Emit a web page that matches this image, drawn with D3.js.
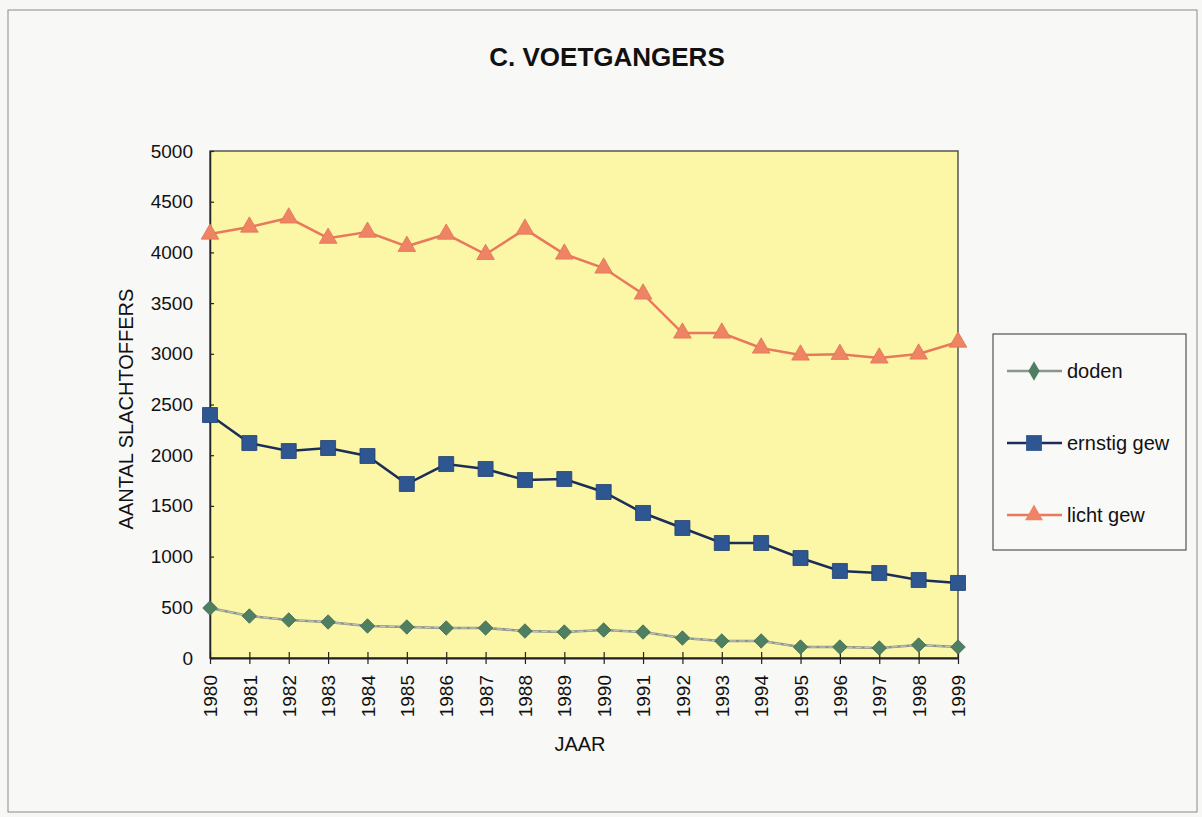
<!DOCTYPE html>
<html>
<head>
<meta charset="utf-8">
<script src="https://cdn.jsdelivr.net/npm/d3@7"></script>
<style>
  body { margin: 0; background: #f7f7f5; }
  svg { display: block; font-family: "Liberation Sans", Arial, sans-serif; }
</style>
</head>
<body>
<svg id="chart" width="1202" height="817"></svg>
<script>
"use strict";

var years = ["1980","1981","1982","1983","1984","1985","1986","1987","1988","1989",
  "1990","1991","1992","1993","1994","1995","1996","1997","1998","1999"];
var doden = [493, 414, 375, 355, 316, 306, 296, 296, 266, 256,
  276, 256, 197, 168, 168, 108, 108, 99, 128, 108];
var ernstig = [2396, 2120, 2041, 2071, 1992, 1716, 1913, 1864, 1755, 1765,
  1637, 1430, 1282, 1134, 1134, 986, 858, 838, 769, 740];
var licht = [4181, 4250, 4340, 4140, 4200, 4060, 4180, 3980, 4230, 3984,
  3846, 3590, 3205, 3205, 3057, 2988, 2995, 2959, 2998, 3116];
var yTicks = [0, 500, 1000, 1500, 2000, 2500, 3000, 3500, 4000, 4500, 5000];

// diamond drawn as a square turned 45 degrees (Excel style)
var squareDiamond = {
  draw: function (context, size) {
    var r = Math.sqrt(size / 2);
    context.moveTo(0, -r);
    context.lineTo(r, 0);
    context.lineTo(0, r);
    context.lineTo(-r, 0);
    context.closePath();
  }
};

var series = [
  { name: "doden", values: doden, line: "#8c948c", fill: "#4f7f62", edge: "#3d6650",
    shape: squareDiamond, size: 105, legendShape: d3.symbolDiamond, legendSize: 110, lw: 2.5 },
  { name: "ernstig gew", values: ernstig, line: "#1c2d58", fill: "#2e5690", edge: "#213f6e",
    shape: d3.symbolSquare, size: 225, legendShape: d3.symbolSquare, legendSize: 250, lw: 2.5 },
  { name: "licht gew", values: licht, line: "#e8795d", fill: "#ee8464", edge: "#e07556",
    shape: d3.symbolTriangle, size: 135, legendShape: d3.symbolTriangle, legendSize: 140, lw: 2.5 }
];

function drawChart() {
  var svg = d3.select("#chart");
  var plotLeft = 210, plotRight = 958, plotTop = 151, plotBottom = 658;

  // outer frame
  svg.append("rect")
    .attr("x", 8).attr("y", 10).attr("width", 1189).attr("height", 802)
    .style("fill", "#f8f8f6").style("stroke", "#8a8a8a").style("stroke-width", 1);

  var x = d3.scalePoint().domain(years).range([plotLeft, plotRight]);
  var y = d3.scaleLinear().domain([0, 5000]).range([plotBottom, plotTop]);

  // plot area
  svg.append("rect")
    .attr("x", plotLeft).attr("y", plotTop)
    .attr("width", plotRight - plotLeft).attr("height", plotBottom - plotTop)
    .style("fill", "#fcf7a6").style("stroke", "#555").style("stroke-width", 1.5);

  svg.append("text")
    .text("C. VOETGANGERS")
    .attr("x", 607).attr("y", 66)
    .attr("text-anchor", "middle")
    .style("font-size", "26px").style("font-weight", 700).style("fill", "#111");

  // y axis
  var yAxis = svg.append("g")
    .attr("transform", "translate(" + plotLeft + ",0)")
    .call(d3.axisLeft(y).tickValues(yTicks).tickFormat(d3.format("d"))
      .tickSizeInner(4).tickSizeOuter(0).tickPadding(13));
  yAxis.select(".domain").style("stroke", "#222").style("stroke-width", 1.5);
  yAxis.selectAll(".tick line").attr("x2", 4).style("stroke", "#222").style("stroke-width", 1.2);
  yAxis.selectAll("text").style("font-size", "19px").style("fill", "#111")
    .style("font-family", "'Liberation Sans', Arial, sans-serif");

  // x axis
  var xAxis = svg.append("g")
    .attr("transform", "translate(0," + plotBottom + ")")
    .call(d3.axisBottom(x).tickSizeInner(6).tickSizeOuter(0));
  xAxis.select(".domain").style("stroke", "#222").style("stroke-width", 2);
  xAxis.selectAll(".tick line").attr("y1", -6).style("stroke", "#222").style("stroke-width", 1.2);
  xAxis.selectAll("text")
    .attr("transform", "rotate(-90)")
    .attr("x", -17).attr("y", 0).attr("dy", "0.35em")
    .attr("text-anchor", "end")
    .style("font-size", "19px").style("fill", "#111")
    .style("font-family", "'Liberation Sans', Arial, sans-serif");

  svg.append("text")
    .text("AANTAL SLACHTOFFERS")
    .attr("transform", "translate(133,409) rotate(-90)")
    .attr("text-anchor", "middle")
    .style("font-size", "20px").style("fill", "#111");

  svg.append("text")
    .text("JAAR")
    .attr("x", 580).attr("y", 751)
    .attr("text-anchor", "middle")
    .style("font-size", "20px").style("fill", "#111");

  // series
  var line = d3.line()
    .x(function (d, i) { return x(years[i]); })
    .y(function (d) { return y(d); });

  series.forEach(function (s) {
    svg.append("path")
      .datum(s.values)
      .attr("d", line)
      .style("fill", "none")
      .style("stroke", s.line)
      .style("stroke-width", s.lw);
    if (s.name === "doden") {
      // scanned grey line has a light core
      svg.append("path")
        .datum(s.values)
        .attr("d", line)
        .style("fill", "none")
        .style("stroke", "#d9dccf")
        .style("stroke-width", 0.8)
        .style("stroke-dasharray", "6,3");
    }
    var cls = "m-" + s.name.replace(" ", "");
    svg.selectAll("path." + cls)
      .data(s.values)
      .enter().append("path")
      .attr("class", cls)
      .attr("transform", function (d, i) { return "translate(" + x(years[i]) + "," + y(d) + ")"; })
      .attr("d", d3.symbol().type(s.shape).size(s.size))
      .style("fill", s.fill)
      .style("stroke", s.edge)
      .style("stroke-width", 0.8);
  });

  // legend
  var legend = svg.append("g");
  legend.append("rect")
    .attr("x", 993).attr("y", 334).attr("width", 193).attr("height", 216)
    .style("fill", "#f9f9f7").style("stroke", "#333").style("stroke-width", 1);

  series.forEach(function (s, i) {
    var ly = 371 + i * 72;
    legend.append("line")
      .attr("x1", 1007).attr("x2", 1062).attr("y1", ly).attr("y2", ly)
      .style("stroke", s.line).style("stroke-width", s.lw);
    legend.append("path")
      .attr("transform", "translate(1034," + ly + ")")
      .attr("d", d3.symbol().type(s.legendShape).size(s.legendSize))
      .style("fill", s.fill);
    legend.append("text")
      .text(s.name)
      .attr("x", 1067).attr("y", ly).attr("dy", "0.35em")
      .style("font-size", "20px").style("fill", "#111");
  });
}

drawChart();
</script>
</body>
</html>
